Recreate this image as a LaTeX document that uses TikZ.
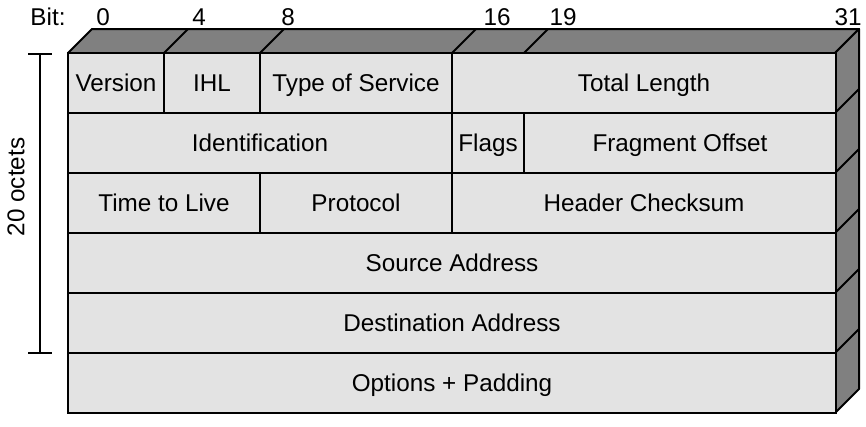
\documentclass[tikz,border=0pt]{standalone}
\usepackage{fontspec}
\setmainfont{Liberation Sans}
\definecolor{FaceGrey}{HTML}{E3E3E3}
\definecolor{SideGrey}{HTML}{808080}
\usetikzlibrary{positioning}
% one header field: name, first bit, end bit, row, text
\newcommand{\ipfield}[5]{%
  \node[field, minimum width={(#3-#2)*18pt}, anchor=north west] (#1)
    at ({68+24*#2},{53+60*#4}) {#5};}

\begin{document}
\begin{tikzpicture}[x=0.75pt, y=-0.75pt, every node/.style={font=\fontsize{18.2}{21}\selectfont},
  field/.style={draw, line width=1.5pt, fill=FaceGrey, minimum height=45pt, outer sep=0pt,
    inner sep=0pt, text height=13pt, text depth=0pt, align=center},
  side/.style={draw, line width=1.5pt, fill=SideGrey, line join=round},
  edge/.style={line width=1.5pt}]
  \useasboundingbox (0,0) rectangle (866,426);
  % top and right faces
  \filldraw[side] (68,53) -- (92,29) -- (859,29) -- (835,53) -- cycle;
  \filldraw[side] (835,53) -- (859,29) -- (859,389) -- (835,413) -- cycle;
  \foreach \b in {4,8,16,19}
    \draw[edge] ({68+24*\b},53) -- ++(24,-24);
  \foreach \r in {1,...,5}
    \draw[edge] (835,{53+60*\r}) -- ++(24,-24);
  % fields
  \ipfield{ver}{0}{4}{0}{Version}
  \ipfield{ihl}{4}{8}{0}{IHL}
  \ipfield{tos}{8}{16}{0}{Type of Service}
  \ipfield{len}{16}{32}{0}{Total Length}
  \ipfield{ident}{0}{16}{1}{Identification}
  \ipfield{flags}{16}{19}{1}{Flags}
  \ipfield{frag}{19}{32}{1}{Fragment Offset}
  \ipfield{ttl}{0}{8}{2}{Time to Live}
  \ipfield{proto}{8}{16}{2}{Protocol}
  \ipfield{csum}{16}{32}{2}{Header Checksum}
  \ipfield{src}{0}{32}{3}{Source Address}
  \ipfield{dst}{0}{32}{4}{Destination Address}
  \ipfield{opts}{0}{32}{5}{Options + Padding}
  % bit numbers
  \node (bit) at (48,17) {Bit:};
  \foreach \x/\n in {103/0,199/4,288/8,497/16,563/19,848/31}
    \node (bit\n) at (\x,17) {\n};
  % 20 octets bracket
  \coordinate (brtop) at (40,54);
  \coordinate (brbot) at (40,353);
  \draw[line width=1pt] (brtop) -- (brbot);
  \draw[line width=1pt] ([xshift=-9pt]brtop) -- ([xshift=9pt]brtop);
  \draw[line width=1pt] ([xshift=-9pt]brbot) -- ([xshift=9pt]brbot);
  \node[rotate=90] (octets) at (16,187) {20 octets};
\end{tikzpicture}
\end{document}
